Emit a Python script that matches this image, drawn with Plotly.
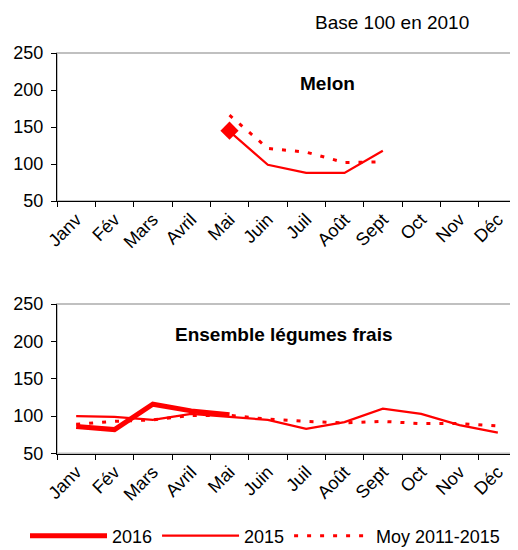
import plotly.graph_objects as go

months = ["Janv", "Fév", "Mars", "Avril", "Mai", "Juin", "Juil", "Août", "Sept", "Oct", "Nov", "Déc"]

# Melon
melon_2016 = [None, None, None, None, 145, None, None, None, None, None, None, None]
melon_2015 = [None, None, None, None, 144, 99, 88, 88, 118, None, None, None]
melon_moy = [None, None, None, None, 166, 121, 116, 102, 103, None, None, None]

# Ensemble légumes frais
leg_2016 = [86, 82, 116, 107, 102, None, None, None, None, None, None, None]
leg_2015 = [100, 99, 95, 103, 99, 95, 83, 92, 110, 103, 88, 78]
leg_moy = [89, 93, 95, 101, 101, 96, 93, 91, 93, 90, 90, 87]

RED = "#FF0000"
FONT = "Liberation Sans, Arial, sans-serif"
OFF = 8  # page body margin
W, H = 518 - OFF, 550 - OFF

fig = go.Figure()

dash_dot = "4px,9px"

# Top panel
fig.add_trace(go.Scatter(x=months, y=melon_2015, mode="lines", line=dict(color=RED, width=2.2),
                         xaxis="x", yaxis="y", showlegend=False, hoverinfo="skip"))
fig.add_trace(go.Scatter(x=months, y=melon_moy, mode="lines", line=dict(color=RED, width=3, dash=dash_dot),
                         xaxis="x", yaxis="y", showlegend=False, hoverinfo="skip"))
fig.add_trace(go.Scatter(x=months, y=melon_2016, mode="lines+markers", line=dict(color=RED, width=5),
                         marker=dict(symbol="diamond", size=14, color=RED),
                         xaxis="x", yaxis="y", showlegend=False, hoverinfo="skip"))

# Bottom panel
fig.add_trace(go.Scatter(x=months, y=leg_2016, mode="lines", name="2016", line=dict(color=RED, width=5),
                         xaxis="x2", yaxis="y2"))
fig.add_trace(go.Scatter(x=months, y=leg_2015, mode="lines", name="2015", line=dict(color=RED, width=2.2),
                         xaxis="x2", yaxis="y2"))
fig.add_trace(go.Scatter(x=months, y=leg_moy, mode="lines", name="Moy 2011-2015",
                         line=dict(color=RED, width=3, dash=dash_dot),
                         xaxis="x2", yaxis="y2"))

def py(px):
    return 1 - (px - OFF) / H

def pxx(px):
    return (px - OFF) / W

x_dom = [pxx(57), min(1.0, pxx(517))]
top_dom = [py(201), py(53)]
bot_dom = [py(453.5), py(304)]

xcommon = dict(range=[-0.5, 11.5], type="category", tickson="boundaries", ticks="outside", ticklen=5,
               tickcolor="black", showline=True, linecolor="black", linewidth=1, showgrid=False,
               tickangle=-45, tickfont=dict(family=FONT, size=18, color="black"), automargin=False,
               zeroline=False, fixedrange=True)
ycommon = dict(range=[50, 250], dtick=50, tick0=50, ticks="outside", ticklen=5, tickcolor="black",
               showline=True, linecolor="black", linewidth=1, showgrid=False, zeroline=False,
               tickfont=dict(family=FONT, size=18, color="black"), automargin=False, fixedrange=True,
               ticklabelstandoff=4)

fig.update_layout(
    width=W, height=H,
    margin=dict(l=0, r=0, t=0, b=0, autoexpand=False),
    paper_bgcolor="white", plot_bgcolor="white",
    font=dict(family=FONT, color="black"),
    xaxis=dict(domain=x_dom, anchor="y", categoryorder="array", categoryarray=months, **xcommon),
    yaxis=dict(domain=top_dom, anchor="x", **ycommon),
    xaxis2=dict(domain=x_dom, anchor="y2", categoryorder="array", categoryarray=months, **xcommon),
    yaxis2=dict(domain=bot_dom, anchor="x2", **ycommon),
    legend=dict(orientation="h", x=pxx(265), xanchor="center", y=py(536), yanchor="middle",
                font=dict(family=FONT, size=18, color="black"), itemwidth=77,
                bgcolor="rgba(0,0,0,0)", traceorder="normal"),
    shapes=[
        dict(type="rect", xref="x domain", yref="y domain", x0=0, x1=1, y0=0, y1=1,
             line=dict(color="#C0C0C0", width=2), layer="below"),
        dict(type="rect", xref="x2 domain", yref="y2 domain", x0=0, x1=1, y0=0, y1=1,
             line=dict(color="#C0C0C0", width=2), layer="below"),
    ],
    annotations=[
        dict(text="Base 100 en 2010", xref="paper", yref="paper", x=pxx(392), y=py(23),
             xanchor="center", yanchor="middle",
             showarrow=False, font=dict(family=FONT, size=19, color="black")),
        dict(text="<b>Melon</b>", xref="paper", yref="paper", x=pxx(327), y=py(83),
             xanchor="center", yanchor="middle",
             showarrow=False, font=dict(family=FONT, size=19, color="black")),
        dict(text="<b>Ensemble légumes frais</b>", xref="paper", yref="paper", x=pxx(284), y=py(334),
             xanchor="center", yanchor="middle",
             showarrow=False, font=dict(family=FONT, size=19, color="black")),
    ],
)

fig.write_html("out.html")
